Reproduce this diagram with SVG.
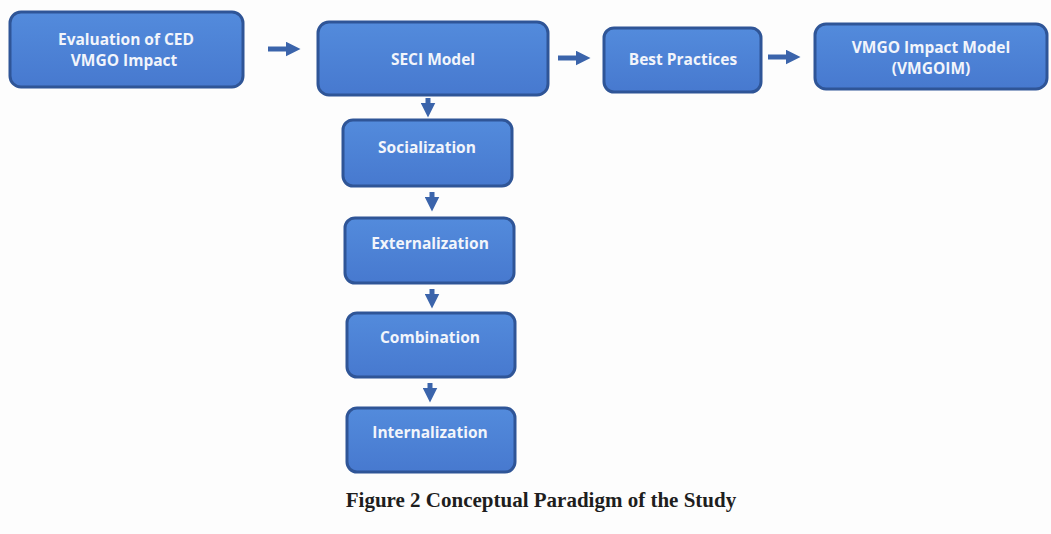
<svg xmlns="http://www.w3.org/2000/svg" width="1051" height="534" viewBox="0 0 1051 534">
<defs>
<linearGradient id="g" x1="0" y1="0" x2="0" y2="1">
<stop offset="0" stop-color="#538bdc"/>
<stop offset="1" stop-color="#4779cf"/>
</linearGradient>
<marker id="ah" viewBox="0 0 10 10" refX="5" refY="5" markerWidth="3" markerHeight="3" markerUnits="strokeWidth" orient="auto">
<path d="M0,0 L10,5 L0,10 Z" fill="#3b64ab"/>
</marker>
</defs>
<style>
.box{fill:url(#g);stroke:#2f5597;stroke-width:3}
.t{font-family:"Open Sans","Liberation Sans",sans-serif;font-weight:bold;font-size:15.5px;fill:#f2f5fb;text-anchor:middle}
.c{stroke:#3b64ab;stroke-width:5;fill:none;marker-end:url(#ah)}
.cap{font-family:"Liberation Serif",serif;font-weight:bold;font-size:21px;fill:#1e1e1e;text-anchor:middle}
</style>
<rect width="1051" height="534" fill="#fdfdfd"/>
<g id="connectors">
<line class="c" x1="268" y1="49" x2="293" y2="49"/>
<line class="c" x1="558" y1="58" x2="583" y2="58"/>
<line class="c" x1="768" y1="57" x2="793" y2="57"/>
<line class="c" x1="428" y1="98" x2="428" y2="110"/>
<line class="c" x1="432" y1="192" x2="432" y2="204"/>
<line class="c" x1="432" y1="289" x2="432" y2="301"/>
<line class="c" x1="430" y1="383" x2="430" y2="395"/>
</g>
<g id="n1"><rect class="box" x="10" y="12" width="233" height="75" rx="11"/>
<text class="t" x="126" y="45">Evaluation of CED</text><text class="t" x="124" y="66">VMGO Impact</text></g>
<g id="n2"><rect class="box" x="318" y="22" width="230" height="73" rx="11"/>
<text class="t" x="433" y="65">SECI Model</text></g>
<g id="n3"><rect class="box" x="604" y="28" width="157" height="64" rx="10"/>
<text class="t" x="683" y="65">Best Practices</text></g>
<g id="n4"><rect class="box" x="815" y="24" width="232" height="65" rx="11"/>
<text class="t" x="931" y="53">VMGO Impact Model</text><text class="t" x="931" y="74">(VMGOIM)</text></g>
<g id="n5"><rect class="box" x="343" y="120" width="169" height="66" rx="10"/>
<text class="t" x="427" y="153">Socialization</text></g>
<g id="n6"><rect class="box" x="345" y="218" width="169" height="65" rx="10"/>
<text class="t" x="430" y="249">Externalization</text></g>
<g id="n7"><rect class="box" x="347" y="313" width="168" height="64" rx="10"/>
<text class="t" x="430" y="343">Combination</text></g>
<g id="n8"><rect class="box" x="347" y="408" width="168" height="64" rx="10"/>
<text class="t" x="430" y="438">Internalization</text></g>
<text class="cap" x="541" y="507">Figure 2 Conceptual Paradigm of the Study</text>
</svg>
